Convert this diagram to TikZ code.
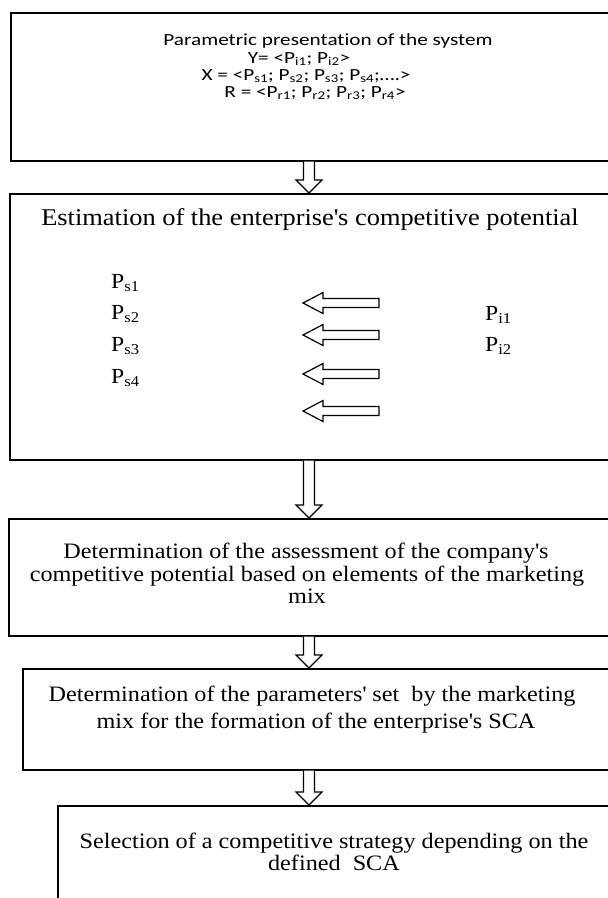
\documentclass[tikz,border=0pt]{standalone}
\usepackage{fontspec}
\setmainfont{Liberation Serif}[FakeStretch=1.1]
\newfontfamily\calfont{Carlito}[FakeStretch=1.25,Ligatures={NoCommon}]
\usetikzlibrary{calc}
\newcommand\q{\textquotesingle}
\tikzset{
  box/.style={draw, line width=1.5pt, rectangle, anchor=north west, inner sep=0pt, minimum width=640pt},
  arrowline/.style={draw, line width=1.2pt, fill=white, line join=miter},
  smallarrow/.style={draw, line width=1.2pt, fill=white, line join=miter},
  calib/.style={font=\calfont\fontsize{17}{19}\selectfont, anchor=base, inner sep=0pt},
  title/.style={font=\fontsize{24}{28}\selectfont, anchor=base, inner sep=0pt},
  body/.style={font=\fontsize{22}{26}\selectfont, anchor=base, inner sep=0pt},
  plabel/.style={font=\fontsize{21.5}{25}\selectfont, anchor=base west, inner sep=0pt}
}
\newcommand\blockdown[2]{%
  \path[arrowline] let \p1=(#1), \p2=(#2) in
    (\x1-5.5pt,\y1) -- (\x1-5.5pt,\y2+13pt) -- (\x1-13pt,\y2+13pt) -- (\x2,\y2)
    -- (\x1+13pt,\y2+13pt) -- (\x1+5.5pt,\y2+13pt) -- (\x1+5.5pt,\y1);}
\newcommand\blockleft[1]{%
  \path[smallarrow] let \p1=(#1) in
    (\x1,\y1) -- (\x1+20pt,\y1+10.5pt) -- (\x1+20pt,\y1+4.5pt) -- (\x1+76pt,\y1+4.5pt)
    -- (\x1+76pt,\y1-4.5pt) -- (\x1+20pt,\y1-4.5pt) -- (\x1+20pt,\y1-10.5pt) -- cycle;}
\begin{document}
\begin{tikzpicture}[x=1pt,y=-1pt]
\useasboundingbox (0,0) rectangle (608,898);
\clip (0,0) rectangle (608,898);
\coordinate (axis) at (309,0);
% boxes
\node[box, minimum height=148pt] (b1) at (10,12) {};
\node[box, minimum height=266pt] (b2) at (9,193) {};
\node[box, minimum height=117pt] (b3) at (8,518) {};
\node[box, minimum height=101pt] (b4) at (22,668) {};
\node[box, minimum height=140pt] (b5) at (57,805) {};
% connectors
\blockdown{b1.south -| axis}{b2.north -| axis}
\blockdown{b2.south -| axis}{b3.north -| axis}
\blockdown{b3.south -| axis}{b4.north -| axis}
\blockdown{b4.south -| axis}{b5.north -| axis}
% box 1 text
\node[calib] (t11) at (328,45) {Parametric presentation of the system};
\node[calib] (t12) at (299,63) {Y= <P\textsubscript{i1}; P\textsubscript{i2}>};
\node[calib] (t13) at (306,80) {X = <P\textsubscript{s1}; P\textsubscript{s2}; P\textsubscript{s3}; P\textsubscript{s4};….>};
\node[calib] (t14) at (315,97) {R = <P\textsubscript{r1}; P\textsubscript{r2}; P\textsubscript{r3}; P\textsubscript{r4}>};
% box 2
\node[title] (t2) at (310,225) {Estimation of the enterprise\q s competitive potential};
\node[plabel] (ps1) at (111,288) {P\textsubscript{s1}};
\node[plabel] (ps2) at (111,319) {P\textsubscript{s2}};
\node[plabel] (ps3) at (111,351) {P\textsubscript{s3}};
\node[plabel] (ps4) at (111,383) {P\textsubscript{s4}};
\node[plabel] (pi1) at (485,320) {P\textsubscript{i1}};
\node[plabel] (pi2) at (485,351) {P\textsubscript{i2}};
\coordinate (la1) at (303,303);
\coordinate (la2) at (303,335);
\coordinate (la3) at (303,374);
\coordinate (la4) at (303,411);
\blockleft{la1}
\blockleft{la2}
\blockleft{la3}
\blockleft{la4}
% box 3
\node[body] (t31) at (306,558) {Determination of the assessment of the company\q s};
\node[body] (t32) at (307,581) {competitive potential based on elements of the marketing};
\node[body] (t33) at (307,603) {mix};
% box 4
\node[body] (t41) at (312,701) {Determination of the parameters\q{} set\ \ by the marketing};
\node[body] (t42) at (316,728) {mix for the formation of the enterprise\q s SCA};
% box 5
\node[body] (t51) at (334,848) {Selection of a competitive strategy depending on the};
\node[body] (t52) at (334,870) {defined\ \ SCA};
\end{tikzpicture}
\end{document}
